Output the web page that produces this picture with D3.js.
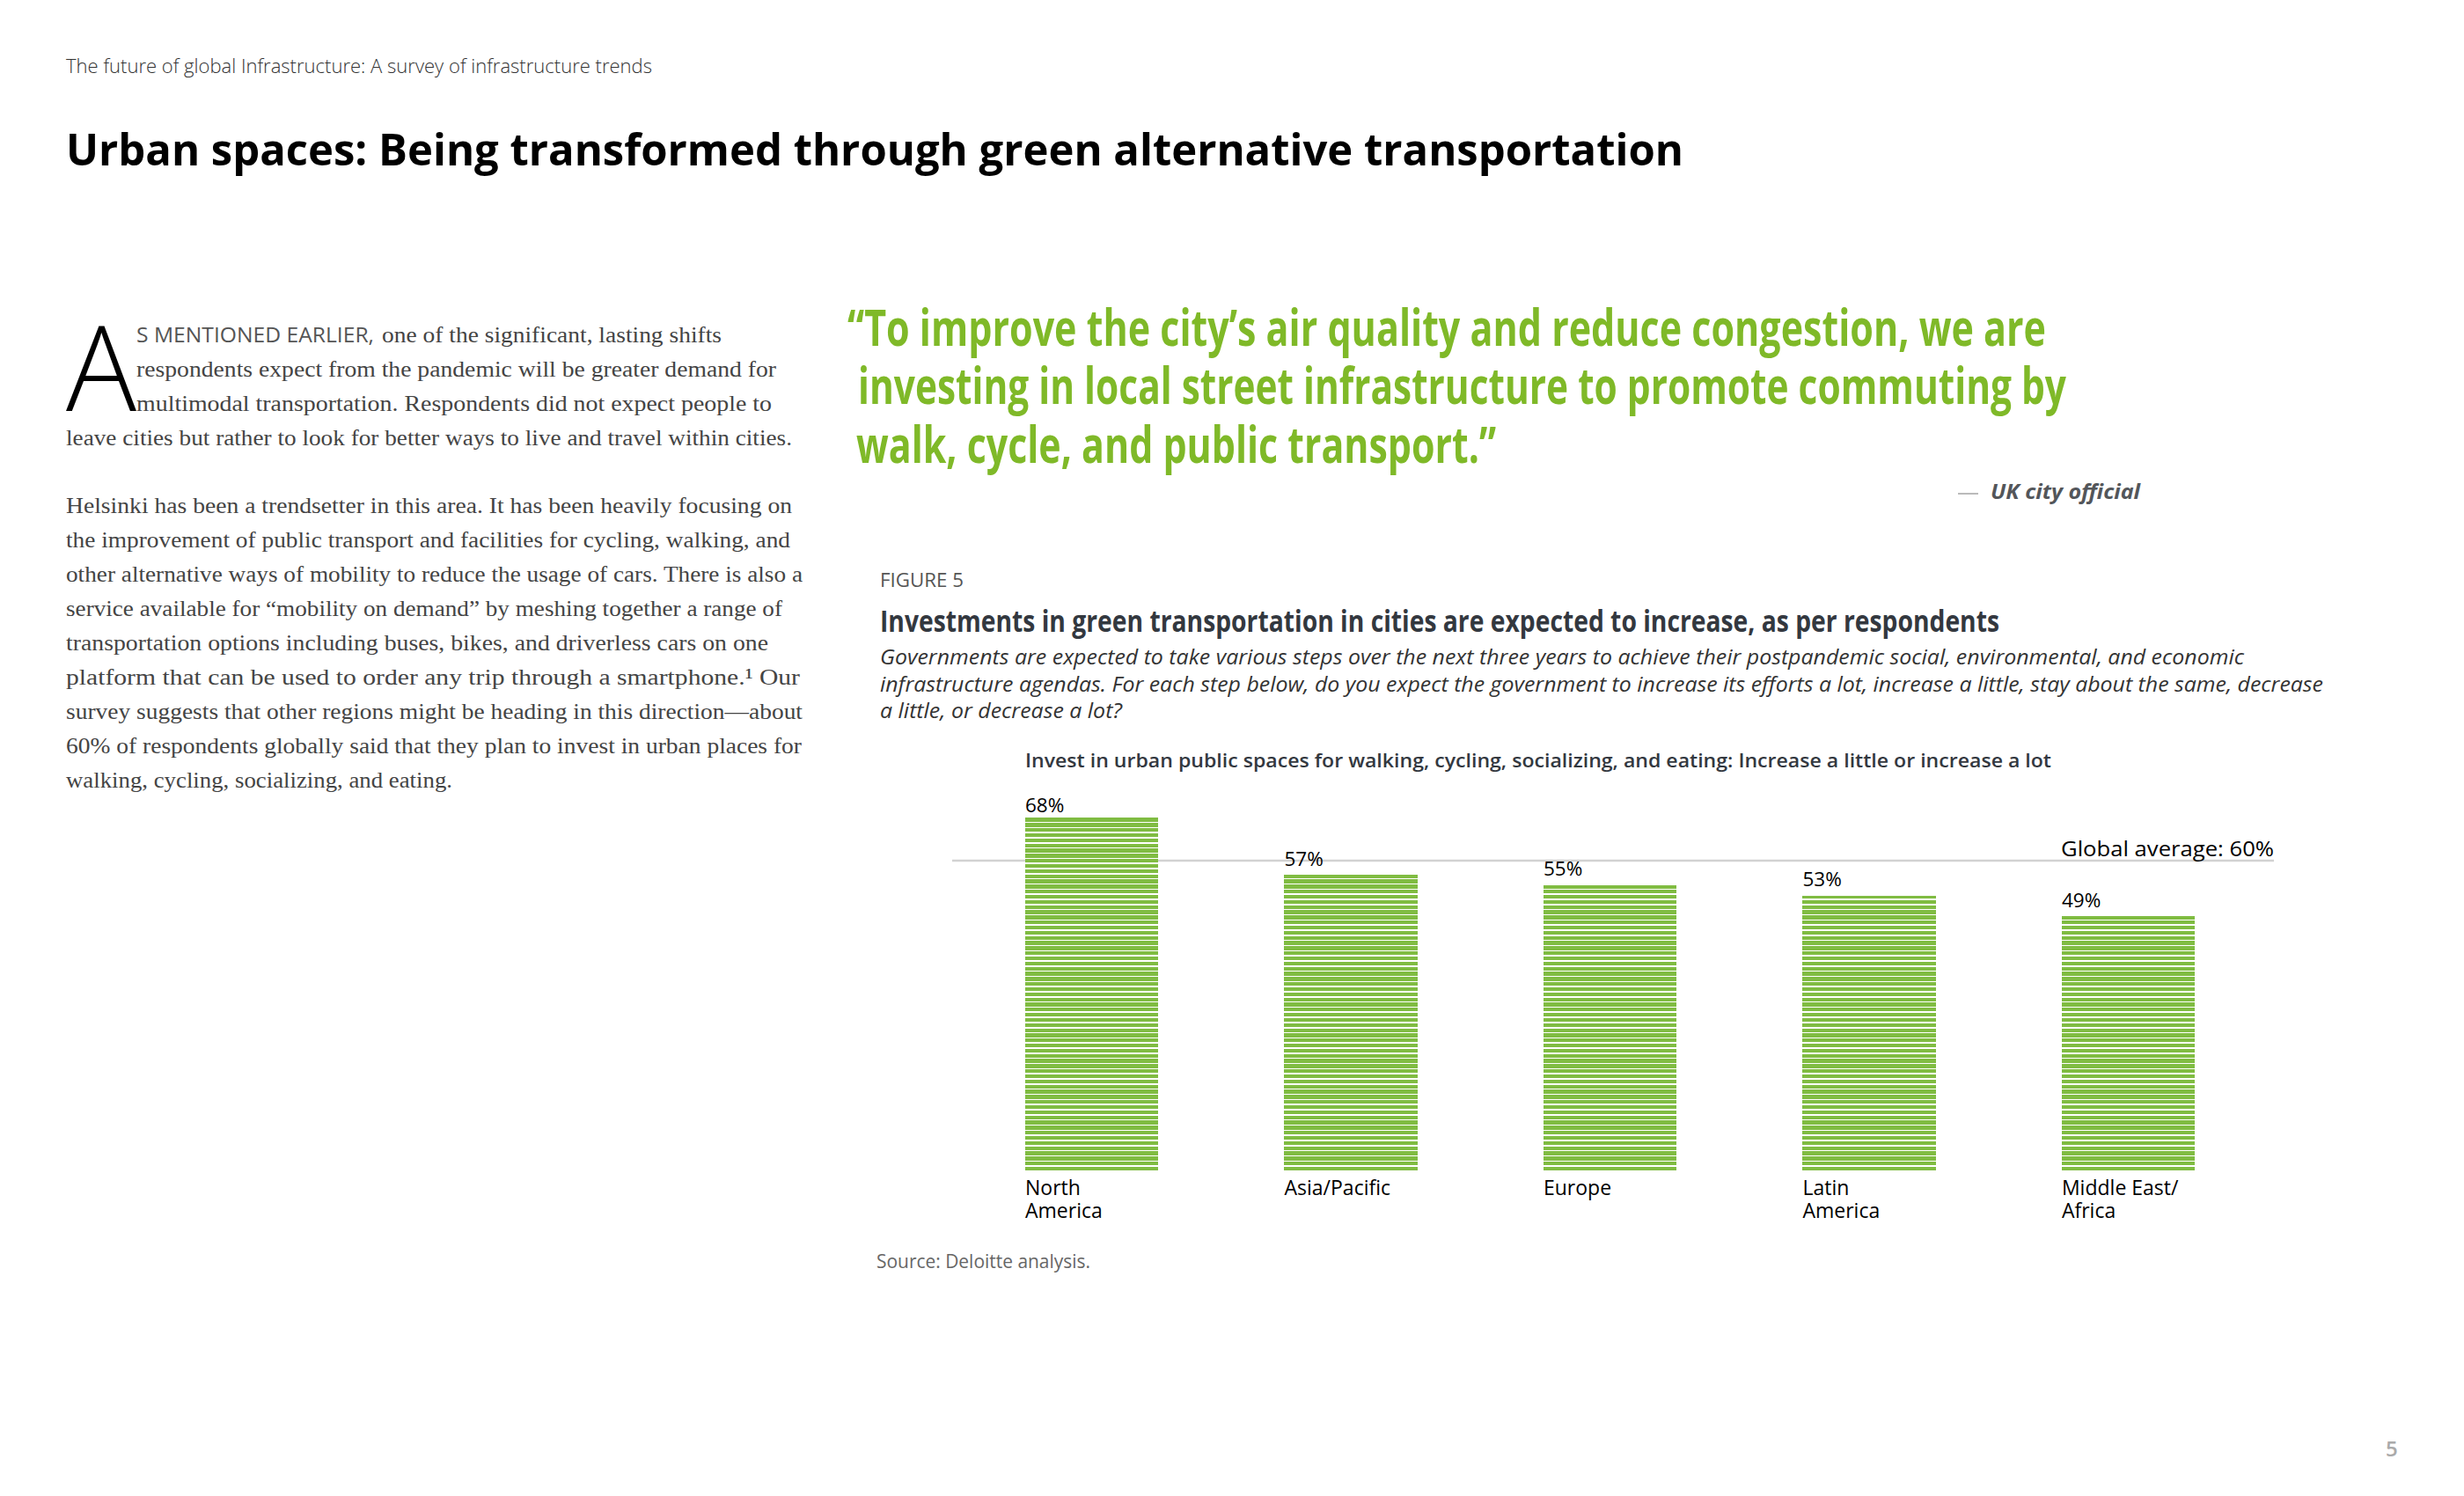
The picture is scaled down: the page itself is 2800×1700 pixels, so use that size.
<!DOCTYPE html>
<html>
<head>
<meta charset="utf-8">
<script src="https://cdn.jsdelivr.net/npm/d3@7"></script>
<style>
  html, body { margin: 0; background: #fff; }
  text { font-family: "Open Sans", sans-serif; }
  .serif { font-family: "Liberation Serif", serif; fill: #444; }
</style>
</head>
<body>
<svg id="chart" width="2800" height="1700"></svg>
<script>
const regions = ["North America", "Asia/Pacific", "Europe", "Latin America", "Middle East/ Africa"];
const regionLines = [["North", "America"], ["Asia/Pacific"], ["Europe"], ["Latin", "America"], ["Middle East/", "Africa"]];
const shares = [68, 57, 55, 53, 49];
const globalAverage = 60;
const labelGaps = [6, 10, 11, 11, 10];

const green = "#80bc42";
const svg = d3.select("#chart");

// every text line is fitted to the width it has in the reference
const line = (txt, x, y, w, size, opts = {}) => {
  const t = svg
    .append("text")
    .attr("x", x)
    .attr("y", y)
    .attr("font-size", size)
    .attr("font-weight", opts.weight || 400)
    .attr("font-style", opts.style || "normal")
    .attr("fill", opts.fill || "#000")
    .text(txt);
  if (opts.cls) t.attr("class", opts.cls);
  if (w) t.attr("textLength", w).attr("lengthAdjust", "spacingAndGlyphs");
  return t;
};

// page header
line("The future of global Infrastructure: A survey of infrastructure trends", 75, 83, 666, 21.5, { weight: 300, fill: "#333" });
line("Urban spaces: Being transformed through green alternative transportation", 75, 188, 1838, 50, { weight: 700 });

// body copy
line("A", 75, 467, 80, 134, { weight: 300 });
line("S MENTIONED EARLIER,", 155, 389, 270, 23, { weight: 400, fill: "#555" });
const serifLines = [
  ["one of the significant, lasting shifts", 434, 389, 386],
  ["respondents expect from the pandemic will be greater demand for", 155, 428, 727],
  ["multimodal transportation. Respondents did not expect people to", 155, 467, 722],
  ["leave cities but rather to look for better ways to live and travel within cities.", 75, 506, 825],
  ["Helsinki has been a trendsetter in this area. It has been heavily focusing on", 75, 583, 825],
  ["the improvement of public transport and facilities for cycling, walking, and", 75, 622, 823],
  ["other alternative ways of mobility to reduce the usage of cars. There is also a", 75, 661, 837],
  ["service available for \u201Cmobility on demand\u201D by meshing together a range of", 75, 700, 814],
  ["transportation options including buses, bikes, and driverless cars on one", 75, 739, 798],
  ["platform that can be used to order any trip through a smartphone.\u00B9 Our", 75, 778, 834],
  ["survey suggests that other regions might be heading in this direction\u2014about", 75, 817, 837],
  ["60% of respondents globally said that they plan to invest in urban places for", 75, 856, 836],
  ["walking, cycling, socializing, and eating.", 75, 895, 439],
];
serifLines.forEach((d) => line(d[0], d[1], d[2], d[3], 26, { cls: "serif" }));

// pull quote
const quoteGreen = "#7fb928";
line("\u201CTo improve the city\u2019s air quality and reduce congestion, we are", 963, 393, 1362, 57, { weight: 700, fill: quoteGreen });
line("investing in local street infrastructure to promote commuting by", 975, 459, 1373, 57, { weight: 700, fill: quoteGreen });
line("walk, cycle, and public transport.\u201D", 973, 526, 727, 57, { weight: 700, fill: quoteGreen });
svg.append("line").attr("x1", 2225).attr("x2", 2248).attr("y1", 561).attr("y2", 561).attr("stroke", "#777").attr("stroke-width", 1);
line("UK city official", 2262, 567, 170, 24, { weight: 700, style: "italic", fill: "#53565a" });

// figure header
line("FIGURE 5", 1000, 667, 95, 21, { weight: 400, fill: "#555" });
line("Investments in green transportation in cities are expected to increase, as per respondents", 1000, 718, 1272, 34, { weight: 700, fill: "#33383f" });
line("Governments are expected to take various steps over the next three years to achieve their postpandemic social, environmental, and economic", 1000, 755, 1550, 24, { style: "italic", fill: "#333" });
line("infrastructure agendas. For each step below, do you expect the government to increase its efforts a lot, increase a little, stay about the same, decrease", 1000, 786, 1640, 24, { style: "italic", fill: "#333" });
line("a little, or decrease a lot?", 1000, 816, 275, 24, { style: "italic", fill: "#333" });
line("Invest in urban public spaces for walking, cycling, socializing, and eating: Increase a little or increase a lot", 1165, 872, 1166, 22, { weight: 600, fill: "#33383f" });

// chart
const x = d3.scaleBand().domain(regions).range([1165, 2494]).paddingInner(0.487).paddingOuter(0);
const y = d3.scaleLinear().domain([0, 100]).range([1330, 741]);

const stripePitch = 5.83;
const stripeHeight = 4.3;

svg
  .append("line")
  .attr("x1", 1082)
  .attr("x2", 2584)
  .attr("y1", y(globalAverage) + 1.5)
  .attr("y2", y(globalAverage) + 1.5)
  .attr("stroke", "#d2d2d2")
  .attr("stroke-width", 2.5);

// the bars are hatched: horizontal stripes on one grid shared by all bars
const stripeTops = d3.range(y(d3.max(shares)), y(0) - 1, stripePitch);

svg
  .selectAll("g.bar")
  .data(shares)
  .enter()
  .append("g")
  .attr("class", "bar")
  .attr("shape-rendering", "crispEdges")
  .each(function (d, i) {
    d3.select(this)
      .selectAll("rect")
      .data(stripeTops.filter((s) => s + stripeHeight > y(d)))
      .enter()
      .append("rect")
      .attr("x", x(regions[i]))
      .attr("y", (s) => Math.max(s, y(d)))
      .attr("width", x.bandwidth())
      .attr("height", (s) => Math.min(s + stripeHeight, y(0)) - Math.max(s, y(d)))
      .attr("fill", green);
  });

svg
  .selectAll("text.value")
  .data(shares)
  .enter()
  .append("text")
  .attr("class", "value")
  .attr("x", (d, i) => x(regions[i]))
  .attr("y", (d, i) => y(d) - labelGaps[i])
  .attr("font-size", 22.5)
  .attr("fill", "#000")
  .text((d) => d + "%");

line("Global average: " + globalAverage + "%", 2342, 973, 242, 24.5);

const xAxis = svg
  .append("g")
  .attr("transform", `translate(0, ${y(0)})`)
  .call(d3.axisBottom(x).tickSize(0));
xAxis.select(".domain").remove();
xAxis
  .selectAll(".tick text")
  .attr("text-anchor", "start")
  .attr("fill", "#000")
  .style("font-family", '"Open Sans", sans-serif')
  .style("font-size", "23px")
  .each(function (d, i) {
    const t = d3.select(this).text(null).attr("y", 0).attr("dy", null);
    regionLines[i].forEach((s, j) => {
      t.append("tspan")
        .attr("x", -x.bandwidth() / 2)
        .attr("y", 28 + j * 25.5)
        .text(s);
    });
  });

line("Source: Deloitte analysis.", 996, 1441, 243, 21, { weight: 400, fill: "#666" });
line("5", 2711, 1655, 0, 24, { weight: 600, fill: "#aaa" });
</script>
</body>
</html>
